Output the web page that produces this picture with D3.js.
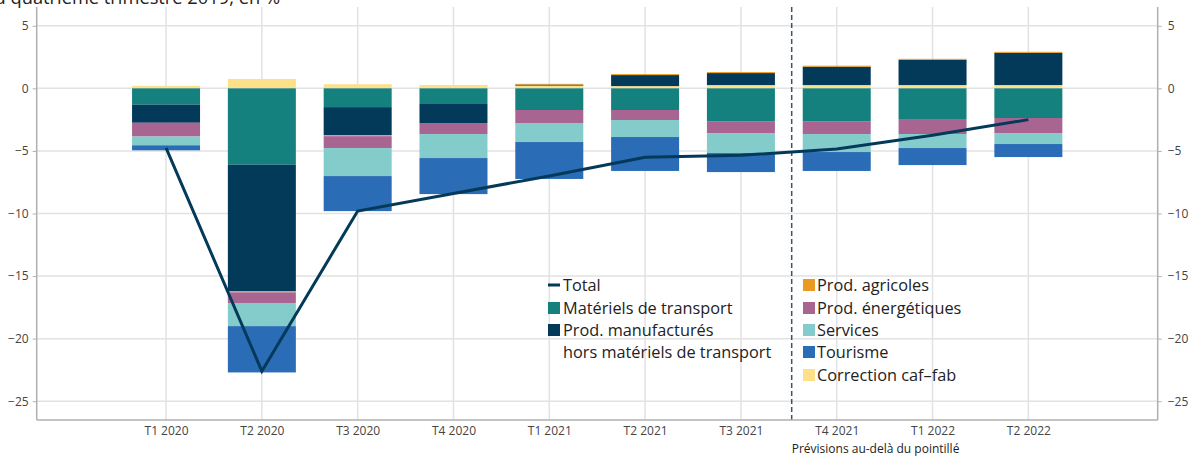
<!DOCTYPE html>
<html>
  <head>
    <meta charset="utf-8">
    <script src="https://cdn.jsdelivr.net/npm/d3@7"></script>
    <style>
      body { margin: 0; background: #fff; }
      svg { display: block; font-family: "Open Sans", sans-serif; }
    </style>
  </head>
  <body>
    <svg id="chart" width="1192" height="456"></svg>
    <script>
      // data
      var quarters = ["T1 2020", "T2 2020", "T3 2020", "T4 2020", "T1 2021",
                      "T2 2021", "T3 2021", "T4 2021", "T1 2022", "T2 2022"];
      var correction = [0.2, 0.75, 0.33, 0.27, 0.22, 0.18, 0.26, 0.26, 0.26, 0.26];
      var transport  = [-1.3, -6.1, -1.5, -1.25, -1.73, -1.73, -2.62, -2.62, -2.45, -2.37];
      var manuf      = [-1.45, -10.1, -2.24, -1.52, 0.08, 0.88, 0.96, 1.47, 2.02, 2.58];
      var agricoles  = [0, -0.1, -0.08, 0, 0.06, 0.08, 0.08, 0.08, 0.08, 0.08];
      var energie    = [-1.1, -0.85, -0.95, -0.88, -1.04, -0.8, -0.95, -1.03, -1.2, -1.2];
      var services   = [-0.7, -1.85, -2.24, -1.92, -1.52, -1.36, -1.6, -1.44, -1.12, -0.88];
      var tourisme   = [-0.4, -3.7, -2.8, -2.88, -2.95, -2.71, -1.52, -1.51, -1.36, -1.04];
      var total      = [-4.75, -22.6, -9.8, -8.4, -7.0, -5.5, -5.35, -4.85, -3.75, -2.5];
      var yTicks = [5, 0, -5, -10, -15, -20, -25];

      var series = [
        {key: "correction", name: "Correction caf\u2013fab", color: "#fde08a", values: correction},
        {key: "transport", name: "Matériels de transport", color: "#14817f", values: transport},
        {key: "manuf", name: "Prod. manufacturés", color: "#033a5a", values: manuf},
        {key: "agricoles", name: "Prod. agricoles", color: "#e89a22", values: agricoles},
        {key: "energie", name: "Prod. énergétiques", color: "#a86592", values: energie},
        {key: "services", name: "Services", color: "#84cccb", values: services},
        {key: "tourisme", name: "Tourisme", color: "#2a6cb5", values: tourisme}
      ];

      var table = quarters.map(function(q, i) {
        var row = {q: q};
        series.forEach(function(s) { row[s.key] = s.values[i]; });
        return row;
      });

      var svg = d3.select("#chart");
      var plotL = 36.7, plotR = 1157.7, plotT = 7, plotB = 420;

      var x = d3.scalePoint().domain(quarters).range([plotL, plotR]).padding(1.35);
      var y = d3.scaleLinear().domain([-26.5, 6.5]).range([plotB, plotT]);
      var barW = 68;

      // title, cut at the top of the picture
      svg.append("text")
        .attr("x", 280).attr("y", 4)
        .attr("text-anchor", "end")
        .attr("font-size", 18.3).attr("fill", "#222")
        .text("Écart au quatrième trimestre 2019, en %");

      // grid
      svg.append("g").selectAll("line").data(yTicks).join("line")
        .attr("x1", plotL).attr("x2", plotR)
        .attr("y1", function(d) { return y(d); }).attr("y2", function(d) { return y(d); })
        .attr("stroke", "#e2e2e2").attr("stroke-width", 1.5);
      svg.append("g").selectAll("line").data(quarters).join("line")
        .attr("x1", function(d) { return x(d); }).attr("x2", function(d) { return x(d); })
        .attr("y1", plotT).attr("y2", plotB)
        .attr("stroke", "#e2e2e2").attr("stroke-width", 1.5);

      // stacked bars
      var stack = d3.stack()
        .keys(series.map(function(s) { return s.key; }))
        .offset(d3.stackOffsetDiverging);
      var stacked = stack(table);

      svg.append("g").selectAll("g").data(stacked).join("g")
        .attr("fill", function(d, i) { return series[i].color; })
        .selectAll("rect").data(function(d) { return d; }).join("rect")
        .attr("x", function(d) { return x(d.data.q) - barW / 2; })
        .attr("width", barW)
        .attr("y", function(d) { return y(Math.max(d[0], d[1])); })
        .attr("height", function(d) { return Math.abs(y(d[0]) - y(d[1])); });

      // dashed forecast separator
      var sepX = x("T3 2021") + x.step() * 0.53;
      svg.append("line")
        .attr("x1", sepX).attr("x2", sepX).attr("y1", plotT).attr("y2", plotB)
        .attr("stroke", "#3b5262").attr("stroke-width", 1.5)
        .attr("stroke-dasharray", "5,3");

      // total line
      var line = d3.line()
        .x(function(d, i) { return x(quarters[i]); })
        .y(function(d) { return y(d); });
      svg.append("path").datum(total)
        .attr("d", line).attr("fill", "none")
        .attr("stroke", "#033a5a").attr("stroke-width", 3);

      // axes
      var axisL = d3.axisLeft(y).tickValues(yTicks).tickSize(4).tickPadding(4)
        .tickFormat(d3.format(""));
      var axisR = d3.axisRight(y).tickValues(yTicks).tickSize(4).tickPadding(6)
        .tickFormat(d3.format(""));
      var axisB = d3.axisBottom(x).tickSize(0).tickPadding(6);

      var gl = svg.append("g").attr("transform", "translate(" + plotL + ",0)").call(axisL);
      var gr = svg.append("g").attr("transform", "translate(" + plotR + ",0)").call(axisR);
      var gb = svg.append("g").attr("transform", "translate(0," + plotB + ")").call(axisB);
      [gl, gr, gb].forEach(function(g) {
        g.select(".domain").attr("stroke", "#b0b0b0").attr("stroke-width", 1.5);
        g.selectAll(".tick line").attr("stroke", "#b0b0b0");
        g.selectAll("text").attr("font-size", 12).attr("fill", "#444")
          .attr("font-family", "'Open Sans', sans-serif");
      });
      gl.select(".domain").attr("d", "M0," + plotT + "V" + plotB);
      gr.select(".domain").attr("d", "M0," + plotT + "V" + plotB);
      gb.select(".domain").attr("d", "M" + plotL + ",0H" + plotR);

      svg.append("text")
        .attr("x", sepX).attr("y", 453)
        .attr("font-size", 12).attr("fill", "#222")
        .text("Prévisions au-delà du pointillé");

      // legend
      var lg = svg.append("g").attr("font-size", 16.3).attr("fill", "#222");
      var rowY = [285, 308, 330, 352, 375];
      lg.append("line").attr("x1", 548).attr("x2", 560)
        .attr("y1", rowY[0]).attr("y2", rowY[0])
        .attr("stroke", "#033a5a").attr("stroke-width", 3);
      var leftItems = [
        {label: "Total", y: rowY[0]},
        {label: "Matériels de transport", y: rowY[1], color: "#14817f"},
        {label: "Prod. manufacturés", y: rowY[2], color: "#033a5a"},
        {label: "hors matériels de transport", y: rowY[3]}
      ];
      var rightKeys = ["agricoles", "energie", "services", "tourisme", "correction"];
      var rightItems = rightKeys.map(function(k, i) {
        var s = series.find(function(d) { return d.key === k; });
        return {label: s.name, y: rowY[i], color: s.color};
      });

      function drawItems(items, sx, tx) {
        items.forEach(function(it) {
          if (it.color) {
            lg.append("rect").attr("x", sx).attr("y", it.y - 6)
              .attr("width", 12).attr("height", 12).attr("fill", it.color);
          }
          lg.append("text").attr("x", tx).attr("y", it.y)
            .attr("dy", "0.35em").text(it.label);
        });
      }
      drawItems(leftItems, 548, 563);
      drawItems(rightItems, 803, 817);
    </script>
  </body>
</html>
